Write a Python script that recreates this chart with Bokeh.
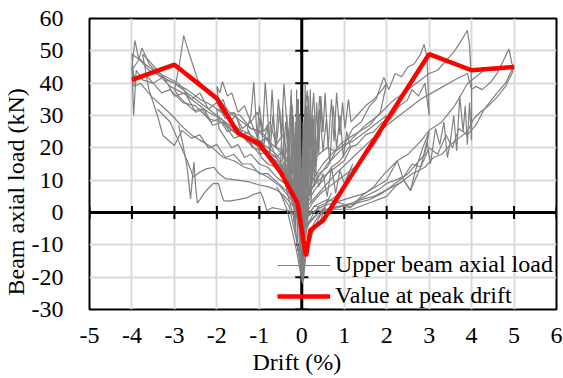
import math
from bokeh.plotting import figure
from bokeh.models import Span, Title
from bokeh.embed import file_html
from bokeh.resources import INLINE

# Axis ticks
x_ticks = list(range(-5, 7))
y_ticks = list(range(-30, 61, 10))

# Beam axial load at the peak drift of each cycle
peak_drift = [-4, -3, -2, -1.5, -1, -0.5, -0.1, 0.1, 0.2, 0.5, 1, 2, 3, 4, 5]
peak_load = [41, 45.7, 35.3, 24.5, 21.3, 12.5, 2.9, -13.5, -5.5, -2.5, 8, 28.5, 49, 44, 45]

# Recorded upper beam axial load history, (drift %, load kN) per cycle
neg4a = [(0, 3), (-0.15, 14), (-0.3, 11), (-0.45, 19), (-0.6, 17), (-0.8, 23), (-1.0, 22), (-1.2, 28),
         (-1.4, 26), (-1.6, 31), (-1.8, 29), (-2.0, 34), (-2.2, 32), (-2.4, 37), (-2.6, 35), (-2.9, 40),
         (-3.2, 42), (-3.5, 44), (-3.7, 46), (-3.85, 48), (-3.93, 53.2), (-4.0, 45), (-3.96, 30), (-3.9, 44),
         (-3.75, 41), (-3.5, 40), (-3.3, 37), (-3.1, 38), (-2.8, 34), (-2.5, 33), (-2.2, 29), (-1.9, 28),
         (-1.6, 25), (-1.3, 23), (-1.0, 20), (-0.7, 17), (-0.4, 13), (-0.2, 7), (0, 0)]
neg4b = [(0, -5), (-0.2, 9), (-0.4, 15), (-0.6, 14), (-0.8, 19), (-1.0, 18), (-1.3, 23), (-1.6, 25),
         (-1.9, 29), (-2.2, 31), (-2.5, 34), (-2.8, 37), (-3.1, 39), (-3.4, 43), (-3.6, 46), (-3.76, 50.8),
         (-3.85, 47), (-4.0, 44), (-3.9, 41), (-3.7, 43), (-3.5, 40), (-3.25, 42), (-3.0, 36), (-2.75, 37),
         (-2.5, 31), (-2.3, 32), (-2.1, 27), (-1.85, 28), (-1.6, 23), (-1.4, 24), (-1.15, 20), (-0.9, 19),
         (-0.6, 15), (-0.35, 11), (-0.15, 5), (0, -2)]
neg4c = [(0, 2), (-0.3, 13), (-0.6, 18), (-0.9, 21), (-1.2, 24), (-1.5, 26), (-1.8, 30), (-2.1, 33),
         (-2.4, 35), (-2.7, 38), (-3.0, 40), (-3.3, 42), (-3.6, 44), (-3.8, 47), (-4.0, 49), (-3.95, 39),
         (-3.8, 40), (-3.55, 36), (-3.3, 33), (-3.05, 30), (-2.85, 27), (-2.6, 24), (-2.35, 22), (-2.1, 20),
         (-1.85, 17), (-1.6, 16), (-1.35, 14), (-1.1, 13), (-0.8, 11), (-0.5, 8), (-0.25, 4), (0, -6)]
neg3a = [(0, 2), (-0.2, 13), (-0.45, 19), (-0.7, 21), (-0.95, 25), (-1.2, 26), (-1.45, 30), (-1.7, 31),
         (-1.95, 35), (-2.2, 37), (-2.45, 41), (-2.6, 47), (-2.72, 52), (-2.78, 54.7), (-2.88, 46),
         (-2.97, 39.8), (-3.0, 38), (-2.9, 36), (-2.75, 34), (-2.54, 31.5), (-2.35, 32), (-2.15, 28),
         (-1.95, 29), (-1.75, 25), (-1.5, 26), (-1.3, 22), (-1.05, 21), (-0.85, 18), (-0.6, 16),
         (-0.35, 11), (-0.15, 5), (0, -3)]
neg3b = [(0, 0), (-0.3, 12), (-0.6, 17), (-0.9, 20), (-1.2, 22), (-1.5, 25), (-1.8, 28), (-2.1, 31),
         (-2.4, 34), (-2.7, 37), (-3.0, 40), (-3.2, 41), (-3.4, 44), (-3.6, 47), (-3.75, 49), (-3.6, 38),
         (-3.4, 30), (-3.27, 23.8), (-3.0, 20.7), (-2.82, 25.4), (-2.6, 23), (-2.4, 24), (-2.2, 20),
         (-2.0, 21), (-1.8, 17), (-1.6, 18), (-1.4, 15), (-1.2, 15), (-1.0, 12), (-0.8, 12), (-0.55, 9),
         (-0.3, 6), (-0.1, 0), (0, -8)]
neg3c = [(-2.9, 27), (-2.8, 21), (-2.7, 14), (-2.62, 4.2), (-2.58, 10), (-2.54, 15.6), (-2.5, 8),
         (-2.46, 2.9), (-2.4, 4), (-2.3, 6), (-2.2, 7.5), (-2.08, 9), (-1.96, 8.9), (-1.9, 6), (-1.84, 3.7),
         (-1.7, 3.5), (-1.5, 4), (-1.3, 4.5), (-1.15, 5.5), (-0.97, 6.3), (-0.9, 4), (-0.82, 0.6),
         (-0.7, 1.5), (-0.5, 1), (-0.3, 0.5), (-0.1, -1.9), (0, -8)]
neg3d = [(-3.4, 32), (-3.1, 28), (-2.9, 22), (-2.7, 16), (-2.55, 11), (-2.4, 12.5), (-2.25, 13.5),
         (-2.07, 14), (-1.95, 12), (-1.8, 10.5), (-1.5, 10), (-1.25, 9.5), (-1.0, 8.5), (-0.8, 8),
         (-0.6, 7), (-0.4, 5), (-0.2, 2), (0, -4)]
neg2a = [(0, 5), (-0.15, 19), (-0.3, 16), (-0.45, 24), (-0.6, 21), (-0.75, 28), (-0.9, 25), (-1.05, 31),
         (-1.2, 28), (-1.35, 33), (-1.5, 31), (-1.65, 37), (-1.75, 36), (-1.87, 40.5), (-1.93, 37),
         (-2.0, 39), (-1.95, 33), (-1.85, 35), (-1.7, 28), (-1.55, 30), (-1.4, 24), (-1.25, 25), (-1.1, 21),
         (-0.95, 22), (-0.8, 18), (-0.6, 17), (-0.4, 13), (-0.2, 8), (-0.05, 1), (0, -8)]
neg2b = [(0, 0), (-0.2, 12), (-0.4, 17), (-0.6, 20), (-0.8, 22), (-1.0, 25), (-1.2, 26), (-1.4, 28),
         (-1.6, 30), (-1.8, 31), (-2.0, 32), (-1.95, 26), (-1.8, 23), (-1.65, 20), (-1.5, 21), (-1.35, 17),
         (-1.2, 18), (-1.0, 15), (-0.8, 14), (-0.6, 11), (-0.4, 9), (-0.2, 4), (0, -5)]
neg1a = [(0, 10), (-0.1, 28), (-0.18, 20), (-0.25, 36), (-0.32, 22), (-0.42, 39.8), (-0.48, 24),
         (-0.55, 35), (-0.62, 20), (-0.7, 38), (-0.76, 22), (-0.86, 40.3), (-0.92, 25), (-1.0, 33),
         (-1.05, 23), (-1.13, 40.3), (-1.2, 30), (-1.28, 26), (-1.15, 22), (-1.0, 20), (-0.85, 18),
         (-0.7, 17), (-0.55, 15), (-0.4, 13), (-0.25, 10), (-0.1, 5), (0, -3)]
neg1b = [(0, 5), (-0.08, 22), (-0.15, 14), (-0.22, 30), (-0.3, 18), (-0.38, 28), (-0.45, 16), (-0.52, 32),
         (-0.6, 20), (-0.68, 30), (-0.75, 18), (-0.82, 27), (-0.9, 20), (-0.98, 29), (-1.05, 21),
         (-0.95, 17), (-0.8, 15), (-0.6, 14), (-0.4, 12), (-0.2, 8), (0, -6)]
ctr_a = [(-0.3, 20), (-0.25, 5), (-0.2, 30), (-0.15, -5), (-0.1, 35), (-0.05, -12), (0, -18), (0.05, -10),
         (0.1, 32), (0.15, 5), (0.2, 36), (0.25, 10), (0.3, 30), (0.25, 12), (0.2, 38), (0.15, 0), (0.1, 25),
         (0.05, -15), (0, -20), (-0.05, -8), (-0.1, 34), (-0.15, 2), (-0.2, 28), (-0.25, 10), (-0.3, 22)]
ctr_b = [(-0.5, 15), (-0.45, 32), (-0.4, 12), (-0.35, 30), (-0.3, 8), (-0.25, 38), (-0.2, 10), (-0.15, 28),
         (-0.1, -2), (-0.05, 30), (0, -20), (0.05, 25), (0.1, -8), (0.15, 36), (0.2, 5), (0.25, 30),
         (0.3, 14), (0.35, 34), (0.4, 18), (0.45, 36), (0.5, 25)]
ctr_c = [(-0.6, 8), (-0.45, 5), (-0.3, 2), (-0.2, -4), (-0.1, -10), (-0.05, -15), (0, -20), (0.02, -19),
         (0.08, -14), (0.15, -9), (0.25, -6), (0.35, -4), (0.44, -2.5), (0.55, 2), (0.7, 6)]
ctr_d = [(-0.4, 10), (-0.3, 4), (-0.2, -1), (-0.12, -8), (-0.05, -14), (0, -17), (0.04, -21), (0.1, -12),
         (0.2, -6), (0.3, -3), (0.4, -1), (0.5, 0), (0.6, 4)]
ctr_e = [(-0.15, 10), (-0.12, 38), (-0.1, 0), (-0.08, 35), (-0.05, -10), (-0.03, 30), (0, -15), (0.03, 28),
         (0.05, -5), (0.08, 40), (0.1, 8), (0.12, 33), (0.15, 15)]
ctr_f = [(-0.35, 12), (-0.3, 26), (-0.26, 6), (-0.22, 33), (-0.18, -3), (-0.14, 24), (-0.1, -12),
         (-0.06, 20), (-0.02, -18), (0.02, 15), (0.06, -12), (0.1, 22), (0.14, -4), (0.18, 29), (0.22, 3),
         (0.26, 26), (0.3, 8), (0.34, 20)]
ctr_g = [(-0.5, 6), (-0.35, 1), (-0.22, -6), (-0.12, -12), (-0.04, -18), (0.02, -22), (0.06, -16),
         (0.14, -11), (0.24, -7), (0.36, -3), (0.5, 1)]
pos1a = [(0, 0), (0.1, 14), (0.2, 6), (0.3, 16), (0.4, 8), (0.5, 12), (0.6, 5), (0.7, 14), (0.8, 6),
         (0.9, 13), (1.0, 9), (1.1, 12), (1.2, 15), (1.0, 8), (0.8, 5), (0.6, 3), (0.4, 2), (0.2, -2), (0, -10)]
pos1c = [(0, 15), (0.1, 33), (0.18, 17), (0.26, 30), (0.34, 14), (0.42, 32), (0.5, 19), (0.58, 29),
         (0.66, 15), (0.74, 33), (0.82, 20), (0.9, 30), (0.98, 17), (1.06, 25), (1.15, 20), (1.0, 16),
         (0.8, 14), (0.6, 12), (0.4, 10), (0.2, 7), (0, 2)]
pos2a = [(0, 10), (0.07, 30), (0.13, 37.7), (0.2, 22), (0.28, 37), (0.35, 18), (0.42, 36), (0.5, 25),
         (0.55, 37), (0.62, 20), (0.7, 35), (0.76, 22), (0.82, 37), (0.9, 24), (0.96, 34), (1.02, 26),
         (1.1, 35), (1.16, 28), (1.3, 30), (1.5, 33), (1.7, 35), (1.9, 38), (2.0, 40), (1.85, 31), (1.6, 27),
         (1.35, 25), (1.1, 23), (0.9, 21), (0.7, 18), (0.5, 15), (0.3, 11), (0.15, 6), (0, 0)]
pos2b = [(0, 5), (0.2, 15), (0.4, 18), (0.6, 20), (0.8, 19), (1.0, 21), (1.2, 22), (1.4, 24), (1.6, 26),
         (1.8, 28), (2.0, 30), (1.85, 24), (1.65, 20), (1.45, 17), (1.25, 14), (1.05, 12), (0.85, 10),
         (0.65, 8), (0.45, 6), (0.25, 3), (0, -3)]
pos3a = [(0, 0), (0.2, 6), (0.4, 12), (0.6, 14), (0.8, 19), (1.0, 21), (1.2, 26), (1.4, 28), (1.6, 33),
         (1.75, 35), (1.93, 41.8), (2.05, 38), (2.2, 43), (2.35, 42), (2.5, 45), (2.65, 46), (2.8, 49),
         (2.88, 52), (2.95, 48), (3.0, 30), (2.9, 40), (2.75, 36), (2.6, 38), (2.48, 34.6), (2.3, 33),
         (2.1, 29), (1.9, 28), (1.7, 25), (1.5, 24), (1.3, 21), (1.1, 20), (0.9, 16), (0.7, 14), (0.5, 10),
         (0.3, 7), (0.1, 2), (0, -3)]
pos3b = [(0, -3), (0.3, 2), (0.6, 4), (0.9, 3), (1.15, 1.6), (1.4, 5), (1.7, 8), (1.95, 12), (2.25, 16),
         (2.4, 10), (2.56, 6.8), (2.7, 14), (2.85, 20), (3.0, 25), (2.9, 18), (2.7, 15), (2.5, 12), (2.2, 9),
         (1.9, 6), (1.6, 4), (1.3, 3), (1.0, 2), (0.7, 1), (0.4, 0), (0, -6)]
pos4a = [(0, 2), (0.3, 9), (0.6, 15), (0.9, 19), (1.2, 23), (1.5, 27), (1.8, 30), (2.1, 34), (2.4, 37),
         (2.7, 40), (3.0, 43), (3.2, 44), (3.4, 47), (3.6, 50), (3.75, 53), (3.9, 56.3), (3.95, 52),
         (4.0, 40), (4.0, 22.3), (3.95, 34), (3.9, 21), (3.85, 33), (3.8, 25), (3.72, 36), (3.65, 19),
         (3.58, 30), (3.5, 22), (3.43, 17), (3.35, 28), (3.25, 21), (3.15, 26), (3.03, 15), (2.95, 22),
         (2.8, 14), (2.6, 15), (2.4, 11), (2.2, 10), (2.0, 9), (1.8, 7), (1.5, 5), (1.2, 3), (0.9, 2),
         (0.6, 1), (0.3, 2), (0, -4)]
pos5a = [(0, 0), (0.4, 6), (0.8, 12), (1.2, 17), (1.6, 22), (2.0, 27), (2.4, 31), (2.8, 35), (3.2, 38),
         (3.6, 41), (3.9, 43), (4.0, 38), (4.1, 39), (4.25, 38), (4.45, 40.3), (4.6, 43), (4.75, 47),
         (4.88, 50.6), (4.95, 46), (5.0, 45), (4.95, 43), (4.8, 39), (4.6, 35.7), (4.4, 33), (4.2, 31),
         (4.05, 29), (3.9, 25), (3.7, 23), (3.5, 21), (3.3, 18), (3.1, 17), (2.9, 14), (2.6, 12), (2.3, 9),
         (2.0, 7), (1.7, 5), (1.4, 4), (1.15, 1.6), (0.9, 2), (0.6, 1), (0.3, 0.5), (0, -3)]
pos5b = [(0, -2), (0.5, 2), (1.0, 4), (1.5, 6), (2.0, 10), (2.25, 16), (2.5, 18), (2.8, 22), (3.0, 25.4),
         (3.3, 28), (3.6, 33), (3.9, 39.8), (4.1, 42), (4.3, 44), (4.6, 44), (4.8, 44.5), (5.0, 45.5),
         (4.8, 40), (4.6, 37), (4.3, 32), (4.1, 27), (3.9, 24), (3.7, 26), (3.55, 20), (3.4, 24), (3.2, 18),
         (3.0, 20), (2.8, 14), (2.56, 6.8), (2.4, 10), (2.2, 8), (2.0, 5), (1.6, 3), (1.2, 1), (0.8, 1),
         (0.4, 0), (0, -5)]

history = [neg4a, neg4b, neg4c, neg3a, neg3b, neg3c, neg3d, neg2a, neg2b, neg1a, neg1b,
           ctr_a, ctr_b, ctr_c, ctr_d, ctr_e, ctr_f, ctr_g,
           pos1a, pos1c, pos2a, pos2b, pos3a, pos3b, pos4a, pos5a, pos5b]

SERIF = "Liberation Serif"
FS = "24px"

p = figure(width=563, height=378, x_range=(-5, 6), y_range=(-30, 60),
           output_backend="svg", toolbar_location=None,
           min_border_left=89, min_border_right=7, min_border_top=18, min_border_bottom=69)
p.background_fill_color = "white"
p.border_fill_color = "white"
p.outline_line_color = "black"
p.outline_line_width = 2

for ax in (p.xaxis[0], p.yaxis[0]):
    ax.axis_line_color = None
    ax.major_tick_line_color = None
    ax.minor_tick_line_color = None
    ax.major_label_text_font = SERIF
    ax.major_label_text_font_size = FS
    ax.major_label_text_color = "black"
p.xaxis.ticker = x_ticks
p.yaxis.ticker = y_ticks
# plain hyphen for negative tick labels
p.xaxis.major_label_overrides = {t: str(t) for t in x_ticks}
p.yaxis.major_label_overrides = {t: str(t) for t in y_ticks}
p.xaxis.major_label_standoff = 12
p.yaxis.major_label_standoff = 20

for g in (p.xgrid[0], p.ygrid[0]):
    g.grid_line_color = "#d9d9d9"
    g.grid_line_width = 2
p.xgrid.ticker = x_ticks
p.ygrid.ticker = y_ticks

# Axes through the origin
p.add_layout(Span(location=0, dimension="width", line_color="black", line_width=3, level="underlay"))
p.add_layout(Span(location=0, dimension="height", line_color="black", line_width=3, level="underlay"))
p.scatter(x=x_ticks, y=[0] * len(x_ticks), marker="dash", angle=math.pi / 2, size=13,
          line_color="black", line_width=2)
p.scatter(x=[0] * len(y_ticks), y=y_ticks, marker="dash", size=13,
          line_color="black", line_width=2)

p.multi_line(xs=[[pt[0] for pt in c] for c in history],
             ys=[[pt[1] for pt in c] for c in history],
             line_color="#808080", line_width=1.2, legend_label="Upper beam axial load")
p.line(peak_drift, peak_load, line_color="#ff0000", line_width=4.5,
       legend_label="Value at peak drift")

leg = p.legend[0]
leg.location = (188, 0)
leg.padding = 0
leg.margin = 0
leg.spacing = 4
leg.glyph_width = 53
leg.glyph_height = 20
leg.label_height = 20
leg.label_standoff = 5
leg.background_fill_alpha = 0
leg.border_line_color = None
leg.label_text_font = SERIF
leg.label_text_font_size = FS
leg.label_text_color = "black"

p.add_layout(Title(text="Drift (%)", align="left", offset=163, standoff=3,
                   text_font=SERIF, text_font_size=FS, text_font_style="normal",
                   text_color="black"), "below")
p.add_layout(Title(text="Beam axial load (kN)", align="left", offset=14, standoff=0,
                   text_font=SERIF, text_font_size=FS, text_font_style="normal",
                   text_color="black"), "left")

open("out.html", "w").write(file_html(p, INLINE))
